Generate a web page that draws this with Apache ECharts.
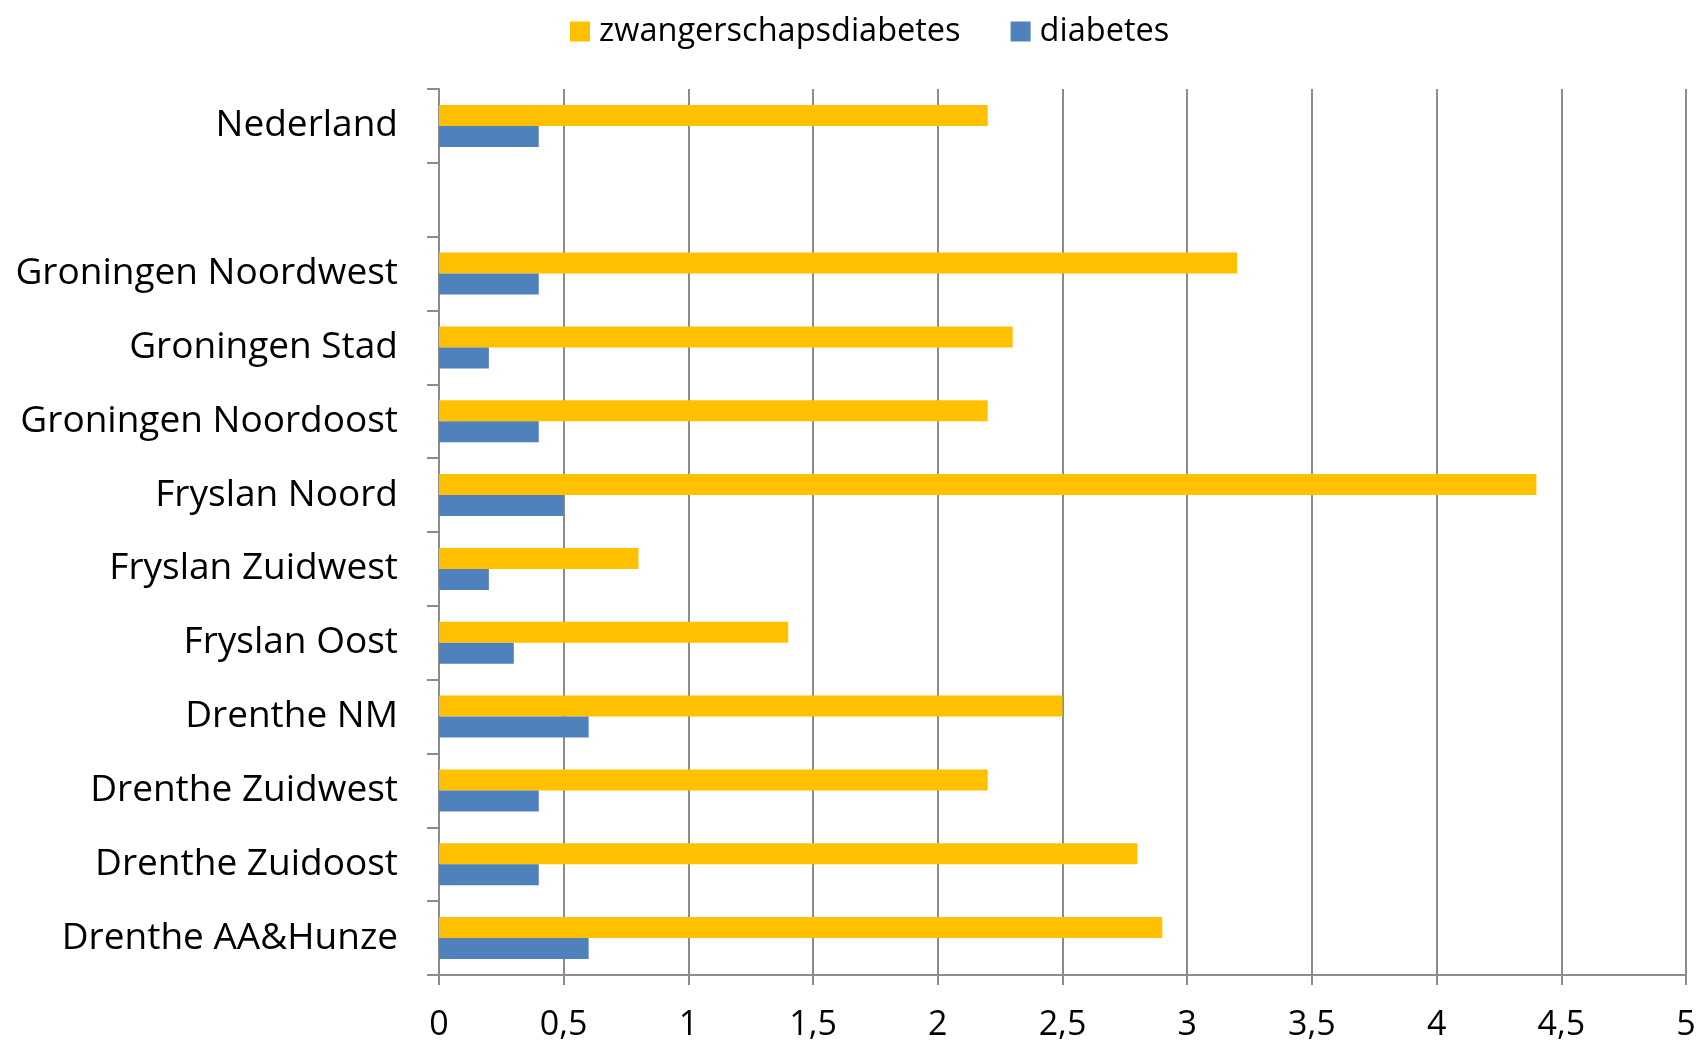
<!DOCTYPE html>
<html>
<head>
<meta charset="utf-8">
<script src="https://cdn.jsdelivr.net/npm/echarts@6/dist/echarts.min.js"></script>
<style>
  html, body { margin: 0; padding: 0; background: #fff; }
  #chart { width: 1699px; height: 1042px; }
</style>
</head>
<body>
<div id="chart"></div>
<script>
// categorieën van boven naar beneden (lege rij tussen Nederland en de regio's)
const regions = [
  "Nederland", "",
  "Groningen Noordwest", "Groningen Stad", "Groningen Noordoost",
  "Fryslan Noord", "Fryslan Zuidwest", "Fryslan Oost",
  "Drenthe NM", "Drenthe Zuidwest", "Drenthe Zuidoost", "Drenthe AA&Hunze"
];
const zwangerschapsdiabetes = [2.2, null, 3.2, 2.3, 2.2, 4.4, 0.8, 1.4, 2.5, 2.2, 2.8, 2.9];
const diabetes = [0.4, null, 0.4, 0.2, 0.4, 0.5, 0.2, 0.3, 0.6, 0.4, 0.4, 0.6];
const xTicks = [0, 0.5, 1, 1.5, 2, 2.5, 3, 3.5, 4, 4.5, 5];

const font = "'Open Sans', sans-serif";
const chart = echarts.init(document.getElementById("chart"));

chart.setOption({
  animation: false,
  textStyle: { fontFamily: font },
  legend: {
    top: 10,
    left: 565,
    itemWidth: 20,
    itemHeight: 20,
    itemGap: 50,
    icon: "rect",
    textStyle: { fontSize: 32.5, color: "#000", fontFamily: font, padding: [0, 0, 0, 4] },
    data: ["zwangerschapsdiabetes", "diabetes"]
  },
  grid: { left: 439, right: 13, top: 89, bottom: 64 },
  xAxis: {
    type: "value",
    min: xTicks[0],
    max: xTicks[xTicks.length - 1],
    interval: 0.5,
    axisLine: { show: true, lineStyle: { color: "#8c8c8c", width: 2 } },
    axisTick: { show: true, length: 10, lineStyle: { color: "#8c8c8c", width: 2 } },
    splitLine: { show: true, lineStyle: { color: "#8c8c8c", width: 2 } },
    axisLabel: {
      fontSize: 34, color: "#000", margin: 33,
      formatter: (v) => String(v).replace(".", ",")
    }
  },
  yAxis: {
    type: "category",
    inverse: true,
    data: regions,
    axisLine: { show: true, lineStyle: { color: "#8c8c8c", width: 2 } },
    axisTick: { show: true, length: 12, lineStyle: { color: "#8c8c8c", width: 2 } },
    axisLabel: { fontSize: 37, color: "#000", margin: 41, padding: [0, 0, 0, 0], lineHeight: 40, verticalAlign: "middle" }
  },
  series: [
    {
      name: "zwangerschapsdiabetes",
      type: "bar",
      data: zwangerschapsdiabetes,
      barWidth: 21,
      barGap: "0%",
      itemStyle: { color: "#FFC000" }
    },
    {
      name: "diabetes",
      type: "bar",
      data: diabetes,
      barWidth: 21,
      barGap: "0%",
      itemStyle: { color: "#4F81BD" }
    }
  ]
});
</script>
</body>
</html>
